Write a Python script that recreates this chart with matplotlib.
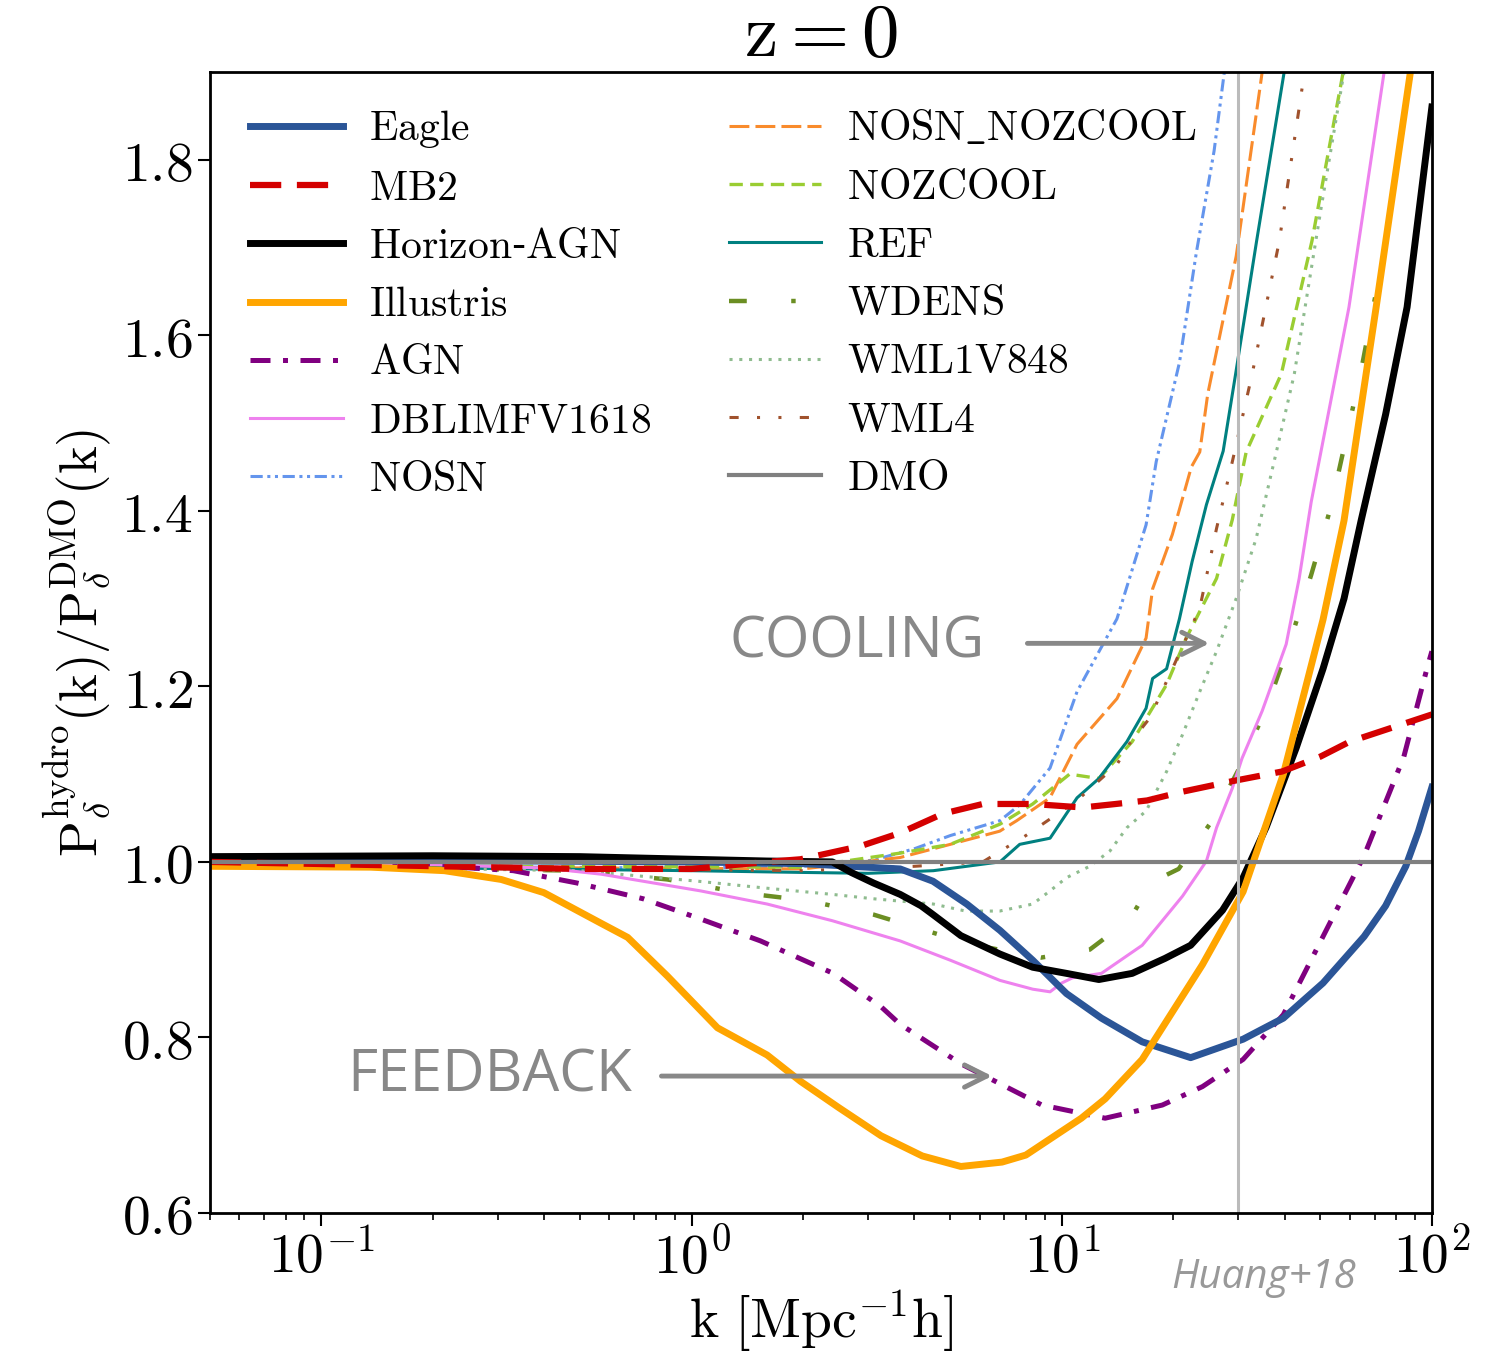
import math
import matplotlib
matplotlib.use('Agg')
import matplotlib.pyplot as plt
from matplotlib.ticker import FixedLocator, FuncFormatter, LogLocator, NullFormatter

plt.rcParams['mathtext.fontset'] = 'cm'
plt.rcParams['font.family'] = ['DejaVu Serif']

# ---- data (k in h/Mpc, ratio P_hydro / P_DMO) ----
k_eagle = [0.05, 1.0, 2.0, 3.66, 4.49, 5.54, 6.81, 8.35, 10.3, 12.8, 16.5, 22.3, 30.9, 39.7, 50.8, 65.6, 75.0, 85.0, 92.0, 100.0]
r_eagle = [1.003, 1.0, 0.998, 0.992, 0.978, 0.952, 0.922, 0.888, 0.85, 0.822, 0.795, 0.777, 0.798, 0.822, 0.862, 0.915, 0.95, 0.995, 1.035, 1.085]

k_mb2 = [0.05, 0.5, 1.0, 1.6, 1.97, 2.86, 3.66, 4.78, 6.12, 8.35, 11.4, 14.0, 17.0, 21.2, 28.9, 39.4, 50.0, 60.0, 100.0]
r_mb2 = [1.0, 0.992, 0.992, 1.0, 1.003, 1.018, 1.033, 1.055, 1.066, 1.066, 1.062, 1.066, 1.07, 1.08, 1.092, 1.103, 1.12, 1.137, 1.168]

k_hagn = [0.05, 0.2, 0.5, 1.0, 1.6, 2.4, 2.7, 3.1, 3.66, 4.17, 4.49, 5.34, 6.81, 8.35, 10.3, 12.6, 15.5, 19.0, 22.3, 27.2, 30.9, 35.7, 43.0, 50.8, 57.9, 64.4, 75.0, 85.7, 100.0]
r_hagn = [1.006, 1.007, 1.006, 1.003, 1.001, 1.0, 0.988, 0.976, 0.963, 0.95, 0.94, 0.916, 0.895, 0.88, 0.873, 0.866, 0.873, 0.89, 0.905, 0.945, 0.982, 1.04, 1.13, 1.22, 1.30, 1.389, 1.51, 1.632, 1.86]

k_ill = [0.05, 0.136, 0.215, 0.306, 0.399, 0.57, 0.672, 0.86, 1.175, 1.6, 1.97, 2.5, 3.25, 4.2, 5.34, 6.9, 8.0, 11.3, 13.1, 16.5, 24.0, 30.9, 39.7, 50.8, 57.9, 70.7, 87.5, 100.0]
r_ill = [0.995, 0.994, 0.99, 0.98, 0.965, 0.93, 0.914, 0.87, 0.811, 0.78, 0.75, 0.72, 0.688, 0.665, 0.653, 0.658, 0.666, 0.708, 0.73, 0.775, 0.883, 0.966, 1.1, 1.276, 1.389, 1.632, 1.9, 2.2]

k_agn = [0.05, 0.136, 0.215, 0.33, 0.49, 0.74, 1.057, 1.535, 2.415, 3.25, 3.66, 5.34, 8.84, 13.1, 18.7, 24.0, 30.9, 39.7, 50.8, 65.6, 84.0, 97.5, 100.0]
r_agn = [0.998, 0.997, 0.995, 0.99, 0.976, 0.958, 0.935, 0.91, 0.873, 0.835, 0.815, 0.77, 0.723, 0.708, 0.723, 0.744, 0.775, 0.826, 0.915, 1.007, 1.12, 1.224, 1.24]

k_dbl = [0.05, 0.2, 0.4, 0.57, 1.057, 1.6, 2.4, 3.66, 5.0, 6.81, 8.35, 9.3, 10.0, 10.7, 12.8, 16.5, 21.2, 24.6, 26.2, 28.9, 30.7, 34.8, 40.4, 43.8, 47.2, 59.7, 74.3, 80.0]
r_dbl = [0.998, 0.997, 0.993, 0.986, 0.967, 0.952, 0.933, 0.91, 0.888, 0.865, 0.855, 0.852, 0.862, 0.868, 0.873, 0.905, 0.961, 1.001, 1.039, 1.084, 1.118, 1.172, 1.248, 1.323, 1.41, 1.632, 1.9, 2.0]

k_nosn = [0.05, 1.0, 2.0, 3.1, 4.0, 5.0, 6.81, 7.7, 9.3, 11.0, 14.1, 16.9, 18.0, 20.8, 23.1, 25.8, 27.5, 29.0]
r_nosn = [0.996, 0.993, 0.995, 1.002, 1.015, 1.03, 1.047, 1.065, 1.107, 1.194, 1.277, 1.384, 1.456, 1.569, 1.694, 1.81, 1.9, 1.98]

k_nsnz = [0.05, 2.0, 3.66, 5.0, 6.8, 7.56, 9.29, 11.0, 14.1, 16.9, 17.6, 19.9, 22.4, 23.6, 24.8, 29.6, 34.8, 37.0]
r_nsnz = [0.995, 0.992, 1.005, 1.02, 1.035, 1.047, 1.073, 1.134, 1.186, 1.255, 1.311, 1.373, 1.45, 1.467, 1.533, 1.69, 1.9, 1.98]

k_ref = [0.05, 1.0, 2.0, 3.0, 4.5, 6.81, 7.7, 9.3, 11.0, 12.6, 15.0, 16.9, 17.6, 19.2, 20.8, 22.5, 24.6, 27.3, 29.5, 33.6, 39.9, 42.0]
r_ref = [0.996, 0.99, 0.988, 0.987, 0.99, 1.0, 1.02, 1.027, 1.073, 1.095, 1.137, 1.175, 1.209, 1.22, 1.277, 1.342, 1.407, 1.468, 1.556, 1.707, 1.9, 1.98]

k_nozc = [0.05, 2.0, 3.66, 5.0, 6.81, 8.35, 10.5, 12.6, 15.5, 19.2, 21.7, 26.2, 28.9, 31.5, 39.2, 47.4, 57.6, 60.0]
r_nozc = [0.996, 0.994, 1.01, 1.02, 1.043, 1.066, 1.1, 1.095, 1.137, 1.202, 1.255, 1.323, 1.39, 1.467, 1.556, 1.707, 1.9, 1.95]

k_wdens = [0.05, 0.5, 0.86, 1.355, 2.05, 3.1, 4.6, 6.4, 8.8, 11.9, 15.3, 17.5, 20.7, 25.3, 30.2, 35.8, 41.5, 47.2, 53.4, 64.4, 75.7, 87.8, 92.0]
r_wdens = [0.996, 0.99, 0.98, 0.965, 0.956, 0.94, 0.918, 0.902, 0.891, 0.9, 0.935, 0.977, 0.992, 1.045, 1.107, 1.176, 1.253, 1.327, 1.405, 1.56, 1.715, 1.9, 1.96]

k_wml1 = [0.05, 0.5, 1.04, 1.6, 2.4, 3.1, 4.5, 5.5, 6.8, 8.35, 9.3, 10.3, 11.9, 13.5, 15.0, 16.9, 19.2, 21.2, 23.6, 26.2, 29.6, 33.5, 38.0, 42.5, 50.2, 57.9, 60.0]
r_wml1 = [0.996, 0.99, 0.978, 0.97, 0.963, 0.958, 0.952, 0.944, 0.944, 0.952, 0.967, 0.982, 0.995, 1.0125, 1.039, 1.058, 1.103, 1.145, 1.194, 1.24, 1.3, 1.368, 1.467, 1.556, 1.745, 1.9, 1.94]

k_wml4 = [0.05, 2.0, 4.0, 6.12, 8.0, 11.0, 14.1, 15.2, 17.3, 19.9, 23.6, 26.2, 28.9, 32.7, 38.7, 44.4, 46.0]
r_wml4 = [0.996, 0.99, 0.995, 1.0, 1.03, 1.07, 1.111, 1.134, 1.164, 1.22, 1.289, 1.38, 1.456, 1.556, 1.707, 1.876, 1.92]

k_range = [0.05, 100.0]
r_dmo = [1.0, 1.0]
k_cut = 30.0

y_ticks = [0.6, 0.8, 1.0, 1.2, 1.4, 1.6, 1.8]
x_ticks = [0.1, 1.0, 10.0, 100.0]

# ---- figure ----
fig = plt.figure(figsize=(14.9, 13.55), dpi=100)
ax = fig.add_axes([0.1409, 0.1048, 0.8201, 0.8421])

lines = {}
lines['nosn'], = ax.plot(k_nosn, r_nosn, color='#6495ed', lw=2.2, ls=(0, (4, 1.5, 1, 1.5, 1, 1.5)), label=r'$\mathrm{NOSN}$')
lines['nsnz'], = ax.plot(k_nsnz, r_nsnz, color='#f98b2c', lw=2.2, ls=(0, (6.5, 2)), label=r'$\mathrm{NOSN\_NOZCOOL}$')
lines['nozc'], = ax.plot(k_nozc, r_nozc, color='#9acd32', lw=2.4, ls=(0, (4, 2.2)), label=r'$\mathrm{NOZCOOL}$')
lines['ref'], = ax.plot(k_ref, r_ref, color='#008080', lw=2.2, label=r'$\mathrm{REF}$')
lines['wdens'], = ax.plot(k_wdens, r_wdens, color='#6b8e23', lw=3.2, ls=(0, (4, 10, 1, 10)), label=r'$\mathrm{WDENS}$')
lines['wml1'], = ax.plot(k_wml1, r_wml1, color='#8fbc8f', lw=2.2, ls=(0, (1, 2.2)), label=r'$\mathrm{WML1V848}$')
lines['wml4'], = ax.plot(k_wml4, r_wml4, color='#a0522d', lw=2.2, ls=(0, (3, 6, 1, 6, 1, 6)), label=r'$\mathrm{WML4}$')
lines['dbl'], = ax.plot(k_dbl, r_dbl, color='#ee82ee', lw=2.2, label=r'$\mathrm{DBLIMFV1618}$')
lines['agn'], = ax.plot(k_agn, r_agn, color='#800080', lw=3.6, ls=(0, (4, 2.5, 1, 2.5)), label=r'$\mathrm{AGN}$')
lines['eagle'], = ax.plot(k_eagle, r_eagle, color='#2b5597', lw=5, label=r'$\mathrm{Eagle}$')
lines['hagn'], = ax.plot(k_hagn, r_hagn, color='black', lw=5, label=r'$\mathrm{Horizon}$-$\mathrm{AGN}$')
lines['ill'], = ax.plot(k_ill, r_ill, color='#ffa500', lw=5, label=r'$\mathrm{Illustris}$')
lines['mb2'], = ax.plot(k_mb2, r_mb2, color='#d40000', lw=4.5, ls=(0, (5, 2.5)), label=r'$\mathrm{MB2}$')
lines['dmo'], = ax.plot(k_range, r_dmo, color='#808080', lw=3, label=r'$\mathrm{DMO}$')
ax.axvline(k_cut, color='#bbbbbb', lw=2.2)

ax.set_xscale('log')
ax.set_xlim(0.05, 100)
ax.set_ylim(0.6, 1.9)
ax.yaxis.set_major_locator(FixedLocator(y_ticks))
ax.yaxis.set_major_formatter(FuncFormatter(lambda v, p: r'$%.1f$' % v))
ax.xaxis.set_major_locator(FixedLocator(x_ticks))
ax.xaxis.set_major_formatter(FuncFormatter(lambda v, p: r'$10^{%d}$' % round(math.log10(v))))
ax.xaxis.set_minor_locator(LogLocator(base=10, subs=range(2, 10)))
ax.xaxis.set_minor_formatter(NullFormatter())
ax.tick_params(axis='both', which='major', labelsize=40, length=9, width=1.5)
ax.tick_params(axis='x', which='minor', length=5, width=1.2)
for s in ax.spines.values():
    s.set_linewidth(2)

ax.set_title(r'$\mathrm{z} = 0$', fontsize=54, pad=6)
ax.set_xlabel(r'$\mathrm{k}\ [\mathrm{Mpc}^{-1}\mathrm{h}]$', fontsize=40, labelpad=2)
ax.set_ylabel(r'$\mathrm{P}_\delta^{\mathrm{hydro}}(\mathrm{k})/\mathrm{P}_\delta^{\mathrm{DMO}}(\mathrm{k})$', fontsize=38, labelpad=6)

order = ['eagle', 'mb2', 'hagn', 'ill', 'agn', 'dbl', 'nosn',
         'nsnz', 'nozc', 'ref', 'wdens', 'wml1', 'wml4', 'dmo']
ax.legend([lines[n] for n in order], [lines[n].get_label() for n in order],
          ncol=2, loc='upper left', bbox_to_anchor=(0.004, 1.0), frameon=False,
          fontsize=30, handlelength=2.23, labelspacing=0.39, columnspacing=1.85,
          handletextpad=0.62, borderaxespad=0.45)

# annotations
ax.annotate('', xy=(25.5, 1.249), xytext=(7.94, 1.249),
            arrowprops=dict(arrowstyle='->', color='#888888', lw=3.5, mutation_scale=40))
ax.text(6.19, 1.249, 'COOLING', family='Open Sans', color='#888888', fontsize=41,
        ha='right', va='center')
ax.annotate('', xy=(6.6, 0.756), xytext=(0.815, 0.756),
            arrowprops=dict(arrowstyle='->', color='#888888', lw=3.5, mutation_scale=40))
ax.text(0.693, 0.756, 'FEEDBACK', family='Open Sans', color='#888888', fontsize=42,
        ha='right', va='center')
fig.text(0.848, 0.057, 'Huang+18', family='Open Sans', style='italic', color='#999999',
         fontsize=29, ha='center', va='center')

plt.savefig('out.png', dpi=100)
